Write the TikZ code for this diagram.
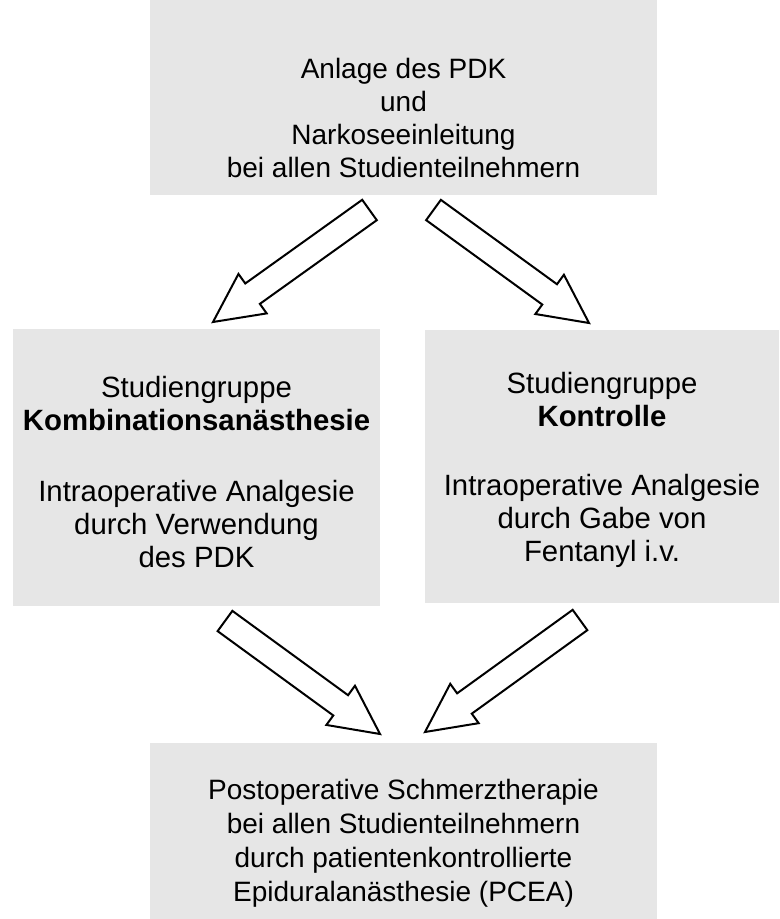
\documentclass[tikz,border=0pt]{standalone}
\usepackage{fontspec}
\setmainfont{Liberation Sans}
\usetikzlibrary{calc}
\definecolor{boxgray}{RGB}{230,230,230}
\tikzset{
  panel/.style={fill=boxgray, draw=none},
  txt/.style={align=center, inner sep=0pt, font=\fontsize{21}{24.75}\selectfont},
  midtxt/.style={align=center, inner sep=0pt, font=\fontsize{22}{24.75}\selectfont},
  blockarrow/.style={draw=black, fill=white, line width=1.5pt, line join=miter},
}
% #1 tail centre, #2 tip, #3 half shaft width, #4 half head width, #5 head length
\newcommand{\blockarr}[5]{%
  \coordinate (ba-h) at ($(#2)!#5!(#1)$);
  \draw[blockarrow]
    ($(#1)!#3!90:(#2)$) -- ($(ba-h)!#3!90:(#2)$) -- ($(ba-h)!#4!90:(#2)$) --
    (#2) -- ($(ba-h)!#4!-90:(#2)$) -- ($(ba-h)!#3!-90:(#2)$) --
    ($(#1)!#3!-90:(#2)$) -- cycle;}
\begin{document}
\begin{tikzpicture}[x=0.75pt,y=-0.75pt]
\useasboundingbox (0,0) rectangle (779,919);
% panels
\fill[panel] (150,0) rectangle (657,195);
\fill[panel] (13,329) rectangle (380,606);
\fill[panel] (425,330) rectangle (779,603);
\fill[panel] (150,743) rectangle (657,919);
% texts
\node[txt] (top) at (403.5,118) {Anlage des PDK\\und\\Narkoseeinleitung\\bei allen Studienteilnehmern};
\node[midtxt] (left) at (196.5,472) {Studiengruppe\\\textbf{Kombinationsanästhesie}\\[28pt]Intraoperative Analgesie\\durch Verwendung\\des PDK};
\node[midtxt] (right) at (602,470) {Studiengruppe\\\textbf{Kontrolle}\\[27pt]Intraoperative Analgesie\\durch Gabe von\\Fentanyl i.v.};
\node[txt, font=\fontsize{21}{25.5}\selectfont] (bottom) at (403.5,843) {Postoperative Schmerztherapie\\bei allen Studienteilnehmern\\durch patientenkontrollierte\\Epiduralanästhesie (PCEA)};
% arrows
\coordinate (a1t) at (369.5,210); \coordinate (a1p) at (213,322);
\coordinate (a2t) at (433.5,210); \coordinate (a2p) at (589,323);
\coordinate (a3t) at (225,621);   \coordinate (a3p) at (380,734);
\coordinate (a4t) at (580,620);   \coordinate (a4p) at (425,732);
\blockarr{a1t}{a1p}{9.4pt}{18.2pt}{36.5pt}
\blockarr{a2t}{a2p}{9.4pt}{18.2pt}{36.5pt}
\blockarr{a3t}{a3p}{9.4pt}{18.2pt}{36.5pt}
\blockarr{a4t}{a4p}{9.4pt}{18.2pt}{36.5pt}
\end{tikzpicture}
\end{document}
